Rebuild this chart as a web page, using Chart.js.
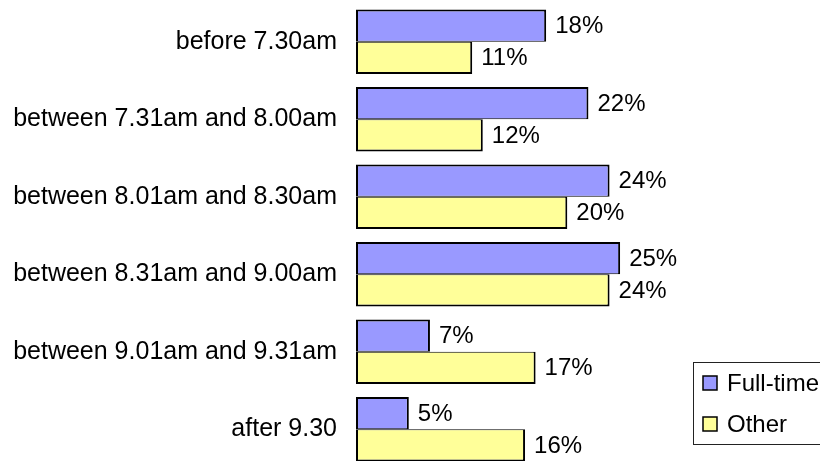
<!DOCTYPE html>
<html>
<head>
<meta charset="utf-8">
<script src="https://cdn.jsdelivr.net/npm/chart.js@4"></script>
<style>
  html, body { margin: 0; padding: 0; background: #fff; overflow: hidden; }
  #wrap { width: 820px; height: 461px; overflow: hidden; }
</style>
</head>
<body>
<div id="wrap"><canvas id="bars" width="879" height="470"></canvas></div>
<script>
var categories = ['before 7.30am', 'between 7.31am and 8.00am', 'between 8.01am and 8.30am',
    'between 8.31am and 9.00am', 'between 9.01am and 9.31am', 'after 9.30'];
var fullTime = [18, 22, 24, 25, 7, 5];
var other = [11, 12, 20, 24, 17, 16];
var seriesNames = ['Full-time', 'Other'];

var FONT = '"Liberation Sans", Arial, sans-serif';

// percent labels at the end of each bar
var valueLabels = {
    id: 'valueLabels',
    afterDatasetsDraw: function (chart) {
        var ctx = chart.ctx;
        ctx.save();
        ctx.font = '24px ' + FONT;
        ctx.fillStyle = '#000';
        ctx.textAlign = 'left';
        ctx.textBaseline = 'middle';
        chart.data.datasets.forEach(function (ds, i) {
            chart.getDatasetMeta(i).data.forEach(function (bar, j) {
                ctx.fillText(ds.data[j] + '%', bar.x + 9, bar.y + 1);
            });
        });
        ctx.restore();
    }
};

// boxed legend in the lower right corner
var boxLegend = {
    id: 'boxLegend',
    afterDraw: function (chart) {
        var ctx = chart.ctx;
        var left = 693, top = 362, rowH = 41;
        ctx.save();
        ctx.strokeStyle = '#222';
        ctx.lineWidth = 1;
        ctx.strokeRect(left + 0.5, top + 0.5, 200, 82);
        ctx.font = '24px ' + FONT;
        ctx.textBaseline = 'middle';
        chart.data.datasets.forEach(function (ds, i) {
            var cy = top + 21 + i * rowH;
            ctx.fillStyle = ds.backgroundColor;
            ctx.fillRect(left + 10, cy - 7, 14, 14);
            ctx.lineWidth = 1.5;
            ctx.strokeStyle = '#000';
            ctx.strokeRect(left + 10, cy - 7, 14, 14);
            ctx.fillStyle = '#000';
            ctx.fillText(ds.label, left + 34, cy + 1);
        });
        ctx.restore();
    }
};

var ctx = document.getElementById('bars').getContext('2d');
var chart = new Chart(ctx, {
    type: 'bar',
    data: {
        labels: categories,
        datasets: [{
            label: seriesNames[0],
            data: fullTime,
            backgroundColor: '#9999FF',
            borderColor: '#000',
            borderWidth: { top: 2, right: 2, bottom: 1, left: 2 },
            borderSkipped: false
        }, {
            label: seriesNames[1],
            data: other,
            backgroundColor: '#FFFF99',
            borderColor: '#000',
            borderWidth: { top: 1, right: 2, bottom: 2, left: 2 },
            borderSkipped: false
        }]
    },
    options: {
        indexAxis: 'y',
        responsive: false,
        animation: false,
        categoryPercentage: 0.83,
        barPercentage: 1,
        layout: { padding: { top: 3, bottom: 2, left: 0, right: 0 } },
        plugins: {
            legend: { display: false },
            tooltip: { enabled: false }
        },
        scales: {
            x: {
                display: false,
                min: 0,
                max: 49.5
            },
            y: {
                grid: { display: false, drawTicks: false },
                border: { display: false },
                ticks: {
                    color: '#000',
                    padding: 19,
                    font: { family: FONT, size: 25 }
                },
                afterFit: function (scale) {
                    scale.width = 356;
                    scale.paddingTop = 0;
                    scale.paddingBottom = 0;
                }
            }
        }
    },
    plugins: [valueLabels, boxLegend]
});
</script>
</body>
</html>
